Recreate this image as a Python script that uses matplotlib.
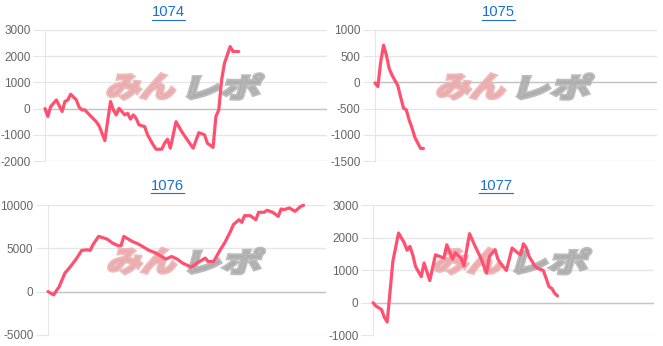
import matplotlib
matplotlib.use('Agg')
import matplotlib.pyplot as plt
from matplotlib.textpath import TextPath
from matplotlib.font_manager import FontProperties
from matplotlib.patches import PathPatch
from matplotlib.transforms import Affine2D, IdentityTransform
from matplotlib.lines import Line2D

plt.rcParams['font.family'] = ['Liberation Sans', 'DejaVu Sans']
plt.rcParams['axes.unicode_minus'] = False

W, H = 663, 346
n_labels = 100

names = ['1074', '1075', '1076', '1077']

x_1074 = [0, 1, 2, 4, 6, 7, 8, 9, 11, 12, 13, 14, 16, 18, 19, 20, 21, 23, 24, 25,
          26, 28, 29, 30, 31, 32, 33, 35, 36, 38, 39, 41, 42, 43, 44, 46, 48, 50,
          52, 54, 56, 57, 59, 60, 61, 62, 63, 65, 66, 68]
y_1074 = [0, -300, 80, 330, -110, 270, 330, 550, 330, 50, -50, -50, -280, -500,
          -660, -940, -1220, 270, -50, -240, 10, -240, -180, -400, -240, -370,
          -620, -690, -1000, -1390, -1550, -1550, -1320, -1170, -1510, -500, -880,
          -1200, -1510, -920, -1000, -1320, -1480, -300, -50, 1090, 1730, 2370,
          2180, 2180]

x_1075 = [0, 1, 2, 3, 4, 5, 6, 8, 9, 10, 11, 12, 13, 14, 16, 17]
y_1075 = [-10, -80, 390, 710, 520, 260, 135, -60, -280, -490, -525, -720, -870,
          -1050, -1260, -1260]

x_1076 = [0, 2, 4, 6, 8, 10, 12, 14, 15, 16, 18, 21, 23, 25, 26, 27, 30, 32, 34,
          36, 38, 40, 42, 44, 46, 48, 50, 51, 53, 56, 57, 59, 61, 63, 65, 66, 68,
          69, 70, 72, 74, 75, 77, 78, 80, 82, 83, 84, 86, 88, 90, 91]
y_1076 = [0, -390, 580, 2130, 2900, 3760, 4770, 4840, 4770, 5430, 6400, 6090,
          5620, 5310, 5310, 6400, 5810, 5540, 5160, 4770, 4530, 4150, 3760, 4070,
          3760, 3290, 2980, 2830, 3290, 3880, 3490, 3490, 4650, 5700, 6980, 7750,
          8330, 8020, 8800, 8800, 8330, 9190, 9190, 9420, 9190, 8720, 9570, 9500,
          9690, 9300, 9880, 10000]

x_1077 = [0, 1, 3, 4, 5, 7, 9, 11, 12, 13, 14, 15, 17, 18, 20, 22, 25, 26, 28, 29,
          31, 32, 34, 36, 38, 40, 41, 43, 44, 45, 47, 49, 51, 52, 53, 54, 55, 57,
          58, 60, 61, 62, 63, 64, 65]
y_1077 = [0, -100, -210, -450, -590, 1270, 2140, 1840, 1610, 1730, 1470, 1110,
          800, 1220, 680, 1470, 1370, 1780, 1340, 1530, 1370, 1130, 2120, 1730,
          1370, 910, 1420, 1630, 1340, 1200, 990, 1680, 1530, 1470, 1810, 1680,
          1420, 1130, 1060, 990, 750, 490, 440, 290, 210]

yticks_1074 = [-2000, -1000, 0, 1000, 2000, 3000]
yticks_1075 = [-1500, -1000, -500, 0, 500, 1000]
yticks_1076 = [-5000, 0, 5000, 10000]
yticks_1077 = [-1000, 0, 1000, 2000, 3000]

xs = [x_1074, x_1075, x_1076, x_1077]
ys = [y_1074, y_1075, y_1076, y_1077]
ticks = [yticks_1074, yticks_1075, yticks_1076, yticks_1077]

# axes boxes in pixels: left, right, top, bottom
boxes = [(45, 327, 30, 161), (375, 657, 30, 161),
         (48, 326, 205.3, 334.7), (373, 654, 205, 335.3)]
# title centres in pixels
title_pos = [(168, 12), (498.5, 12), (167.5, 185.5), (496, 185.5)]

line_color = '#ff5070'
grid_color = '#e6e6e6'
zero_color = '#c4c4c4'
title_color = '#1a6fd8'

fig = plt.figure(figsize=(W / 100, H / 100), dpi=100)

fp = FontProperties(family='Noto Sans CJK JP', weight='bold')


def add_logo(ax, l, r, t, b):
    cx = (l + r) / 2
    cy = H - ((t + b) / 2 - 9)
    parts = [('みん', '#eaa9aa', -80, 76), ('レポ', '#ababab', 1, 80)]
    for s, col, dx, w in parts:
        p = TextPath((0, 0), s, size=1, prop=fp)
        e = p.get_extents()
        tr = (Affine2D().translate(-e.x0, -e.y0)
              .scale((w - 10) / e.width, 25 / e.height)
              .skew_deg(16, 0)
              .translate(cx + dx, cy - 12.5))
        patch = PathPatch(tr.transform_path(p), facecolor=col, edgecolor=col,
                          lw=2.6, alpha=0.8, joinstyle='miter',
                          transform=IdentityTransform(), zorder=1.5)
        ax.add_artist(patch)


axes = []
for i in range(4):
    l, r, t, b = boxes[i]
    ax = fig.add_axes([l / W, 1 - b / H, (r - l) / W, (b - t) / H])
    ax.plot(xs[i], ys[i], color=line_color, lw=2.3, solid_joinstyle='round',
            solid_capstyle='round', zorder=3, clip_on=False)
    ax.set_xlim(0, n_labels - 1)
    ax.set_ylim(ticks[i][0], ticks[i][-1])
    ax.set_yticks(ticks[i])
    ax.set_xticks([])
    ax.grid(axis='y', color=grid_color, lw=1)
    ax.axhline(0, color=zero_color, lw=1, zorder=1)
    ax.set_axisbelow(True)
    for s in ['top', 'right', 'bottom']:
        ax.spines[s].set_visible(False)
    ax.spines['left'].set_color(grid_color)
    ax.tick_params(axis='y', length=9, color=grid_color, labelcolor='#666666',
                   labelsize=8.5, pad=1.5)
    ax.patch.set_alpha(0)
    add_logo(ax, l, r, t, b)
    axes.append(ax)

titles = []
for i in range(4):
    tx, ty = title_pos[i]
    titles.append(fig.text(tx / W, 1 - ty / H, names[i], color=title_color,
                           fontsize=10.6, ha='center', va='center'))

fig.canvas.draw()
renderer = fig.canvas.get_renderer()
for txt in titles:
    bb = txt.get_window_extent(renderer)
    yl = bb.y0 - 0.5
    fig.add_artist(Line2D([bb.x0 / W, bb.x1 / W], [yl / H, yl / H],
                          color=title_color, lw=0.8, transform=fig.transFigure))

fig.savefig('out.png', dpi=100)
